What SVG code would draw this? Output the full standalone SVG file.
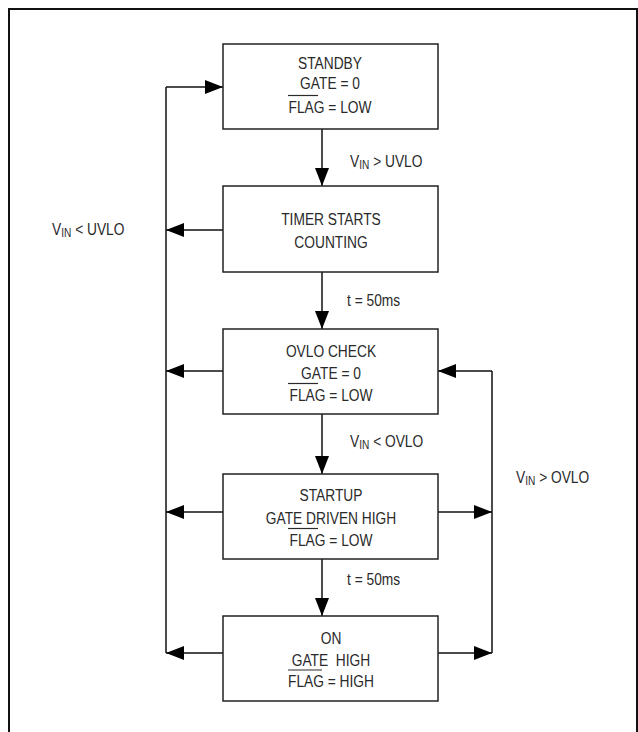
<svg xmlns="http://www.w3.org/2000/svg" width="638" height="732" viewBox="0 0 638 732">
<style>
.box{fill:#fff;stroke:#222;stroke-width:1.5}
.t{font-family:"Liberation Sans",Arial,sans-serif;font-size:17px;fill:#2a2a2a;text-anchor:middle}
.l{font-family:"Liberation Sans",Arial,sans-serif;font-size:17px;fill:#2a2a2a}
.sub{font-size:12.5px}
.ol{stroke:#2a2a2a;stroke-width:1.2}
.c{fill:none;stroke:#111;stroke-width:1.5}
</style>
<defs>
<marker id="ah" markerUnits="userSpaceOnUse" markerWidth="20" markerHeight="14" refX="18" refY="7" orient="auto">
<path d="M0,0 L18,7 L0,14 Z" fill="#000"/>
</marker>
</defs>
<path d="M9,740 V9 H637 V740" fill="none" stroke="#111" stroke-width="2"/>
<g id="connectors">
<line class="c" x1="322" y1="129" x2="322" y2="186" marker-end="url(#ah)"/>
<line class="c" x1="322" y1="272" x2="322" y2="329" marker-end="url(#ah)"/>
<line class="c" x1="322" y1="414" x2="322" y2="474" marker-end="url(#ah)"/>
<line class="c" x1="322" y1="559" x2="322" y2="616" marker-end="url(#ah)"/>
<line class="c" x1="166" y1="87" x2="166" y2="653"/>
<line class="c" x1="166" y1="87" x2="223" y2="87" marker-end="url(#ah)"/>
<line class="c" x1="223" y1="230" x2="166" y2="230" marker-end="url(#ah)"/>
<line class="c" x1="223" y1="371" x2="166" y2="371" marker-end="url(#ah)"/>
<line class="c" x1="223" y1="512" x2="166" y2="512" marker-end="url(#ah)"/>
<line class="c" x1="223" y1="653" x2="166" y2="653" marker-end="url(#ah)"/>
<line class="c" x1="492" y1="371" x2="492" y2="653"/>
<line class="c" x1="492" y1="371" x2="438" y2="371" marker-end="url(#ah)"/>
<line class="c" x1="438" y1="512" x2="492" y2="512" marker-end="url(#ah)"/>
<line class="c" x1="438" y1="653" x2="492" y2="653" marker-end="url(#ah)"/>
<g transform="translate(350 0) scale(0.81 1)"><text class="l" x="0" y="167">V<tspan class="sub" dy="2">IN</tspan><tspan dy="-2"> &gt; UVLO</tspan></text></g>
<g transform="translate(347 0) scale(0.81 1)"><text class="l" x="0" y="306">t = 50ms</text></g>
<g transform="translate(350 0) scale(0.81 1)"><text class="l" x="0" y="447">V<tspan class="sub" dy="2">IN</tspan><tspan dy="-2"> &lt; OVLO</tspan></text></g>
<g transform="translate(347 0) scale(0.81 1)"><text class="l" x="0" y="585">t = 50ms</text></g>
<g transform="translate(52 0) scale(0.81 1)"><text class="l" x="0" y="235">V<tspan class="sub" dy="2">IN</tspan><tspan dy="-2"> &lt; UVLO</tspan></text></g>
<g transform="translate(516 0) scale(0.81 1)"><text class="l" x="0" y="483">V<tspan class="sub" dy="2">IN</tspan><tspan dy="-2"> &gt; OVLO</tspan></text></g>
</g>
<g id="standby">
<rect class="box" x="223" y="44" width="215" height="85"/>
<g transform="translate(330 0) scale(0.81 1)">
<text class="t" x="0" y="69">STANDBY</text>
<text class="t" x="0" y="89">GATE = 0</text>
<text class="t" x="0" y="113">FLAG = LOW</text>
</g>
<line class="ol" x1="288" y1="95.5" x2="318" y2="95.5"/>
</g>
<g id="timer">
<rect class="box" x="223" y="186" width="215" height="86"/>
<g transform="translate(331 0) scale(0.81 1)">
<text class="t" x="0" y="225">TIMER STARTS</text>
<text class="t" x="0" y="248">COUNTING</text>
</g>
</g>
<g id="ovlo">
<rect class="box" x="223" y="329" width="215" height="85"/>
<g transform="translate(331 0) scale(0.81 1)">
<text class="t" x="0" y="357">OVLO CHECK</text>
<text class="t" x="0" y="379.5">GATE = 0</text>
<text class="t" x="0" y="401">FLAG = LOW</text>
</g>
<line class="ol" x1="288" y1="383.5" x2="318" y2="383.5"/>
</g>
<g id="startup">
<rect class="box" x="223" y="474" width="215" height="85"/>
<g transform="translate(331 0) scale(0.81 1)">
<text class="t" x="0" y="501.5">STARTUP</text>
<text class="t" x="0" y="524">GATE DRIVEN HIGH</text>
<text class="t" x="0" y="546">FLAG = LOW</text>
</g>
<line class="ol" x1="288" y1="528.5" x2="318" y2="528.5"/>
</g>
<g id="on">
<rect class="box" x="223" y="616" width="215" height="85"/>
<g transform="translate(331 0) scale(0.81 1)">
<text class="t" x="0" y="644">ON</text>
<text class="t" x="0" y="666" xml:space="preserve">GATE  HIGH</text>
<text class="t" x="0" y="687">FLAG = HIGH</text>
</g>
<line class="ol" x1="288" y1="670" x2="322" y2="670"/>
</g>
</svg>
